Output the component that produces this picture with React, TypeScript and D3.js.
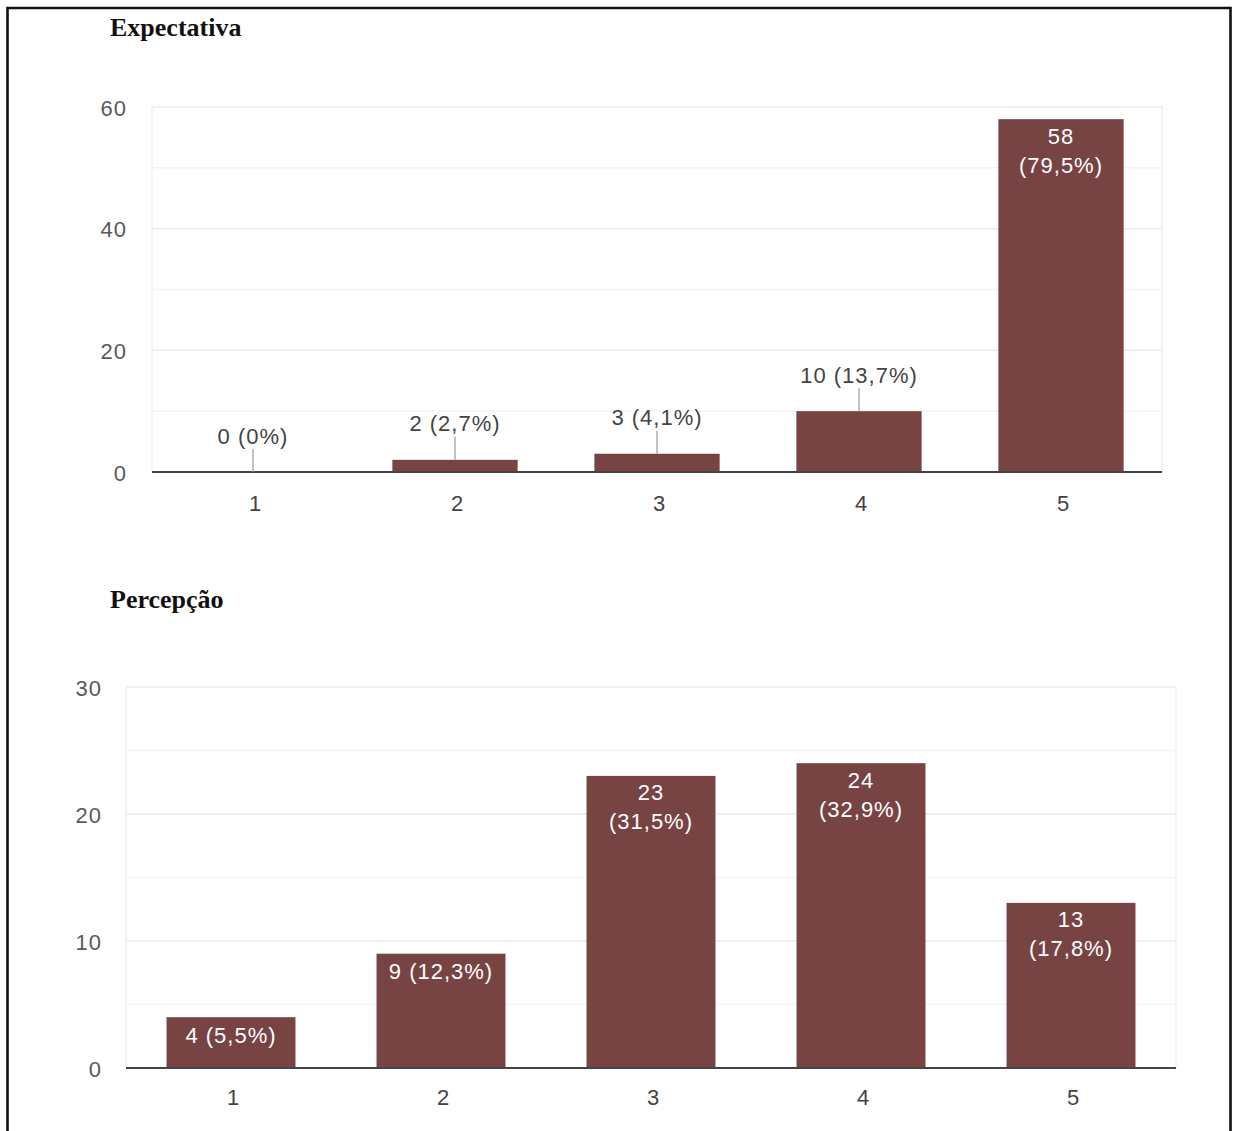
import React from 'react';
import * as d3 from 'd3';

// Response scale (1 to 5)
const categories = ['1', '2', '3', '4', '5'];

// "Expectativa" responses
const expectativaValues = [0, 2, 3, 10, 58];
const expectativaPct = ['0%', '2,7%', '4,1%', '13,7%', '79,5%'];
const expectativaTicks = [0, 20, 40, 60];
const expectativaMinor = [10, 30, 50];

// "Percepção" responses
const percepcaoValues = [4, 9, 23, 24, 13];
const percepcaoPct = ['5,5%', '12,3%', '31,5%', '32,9%', '17,8%'];
const percepcaoTicks = [0, 10, 20, 30];
const percepcaoMinor = [5, 15, 25];

const W = 1233;
const H = 1131;
const SANS = "Arial, 'Liberation Sans', sans-serif";
const SERIF = "'Times New Roman', 'Liberation Serif', serif";
const BAR = '#774343';
const FS = 22;
const LS = 1;

type ChartProps = {
  title: string;
  titleY: number;
  values: number[];
  pcts: string[];
  ticks: number[];
  minor: number[];
  x0: number;
  x1: number;
  yTop: number;
  yBase: number;
  padding: number;
  labelRight: number;
  xLabelY: number;
  insideMin: number;
};

function BarChart(p: ChartProps) {
  const x = d3.scaleBand<string>()
    .domain(categories)
    .range([p.x0, p.x1])
    .paddingInner(p.padding)
    .paddingOuter(p.padding / 2);
  const yMax = d3.max(p.ticks) as number;
  const y = d3.scaleLinear().domain([0, yMax]).range([p.yBase, p.yTop]);
  const bw = x.bandwidth();

  return (
    <g>
      <text x={110} y={p.titleY} fontFamily={SERIF} fontWeight="bold" fontSize={26} fill="#111">
        {p.title}
      </text>

      {/* grid */}
      <line x1={p.x0} x2={p.x0} y1={p.yTop} y2={p.yBase} stroke="#f1f1f1" strokeWidth={1.5} />
      <line x1={p.x1} x2={p.x1} y1={p.yTop} y2={p.yBase} stroke="#f1f1f1" strokeWidth={1.5} />
      {p.minor.map((t) => (
        <line key={'m' + t} x1={p.x0} x2={p.x1} y1={y(t)} y2={y(t)} stroke="#f4f4f4" strokeWidth={1.5} />
      ))}
      {p.ticks.filter((t) => t > 0).map((t) => (
        <line key={'g' + t} x1={p.x0} x2={p.x1} y1={y(t)} y2={y(t)} stroke="#ebebeb" strokeWidth={1.5} />
      ))}

      {/* y tick labels */}
      {p.ticks.map((t) => (
        <text key={'t' + t} x={p.labelRight} y={y(t) + 1} textAnchor="end" dominantBaseline="central"
          fontFamily={SANS} fontSize={FS} letterSpacing={LS} fill="#5a5a5a">
          {t}
        </text>
      ))}

      {/* bars */}
      {p.values.map((v, i) => (
        <rect key={'b' + i} x={x(categories[i])} y={y(v)} width={bw} height={p.yBase - y(v)} fill={BAR} />
      ))}

      {/* baseline */}
      <line x1={p.x0} x2={p.x1} y1={p.yBase} y2={p.yBase} stroke="#444" strokeWidth={1.8} />

      {/* x tick labels */}
      {categories.map((c) => (
        <text key={'x' + c} x={(x(c) as number) + bw / 2 + 2} y={p.xLabelY} textAnchor="middle"
          fontFamily={SANS} fontSize={FS} fill="#444">
          {c}
        </text>
      ))}

      {/* value annotations */}
      {p.values.map((v, i) => {
        const cx = (x(categories[i]) as number) + bw / 2;
        const top = y(v);
        const label = `${v} (${p.pcts[i]})`;
        if (v < p.insideMin) {
          return (
            <g key={'a' + i}>
              <line x1={cx} x2={cx} y1={top} y2={top - 23} stroke="#999" strokeWidth={1.2} />
              <text x={cx} y={top - 36} textAnchor="middle" dominantBaseline="central"
                fontFamily={SANS} fontSize={FS} letterSpacing={LS} fill="#444">
                {label}
              </text>
            </g>
          );
        }
        if (label.length >= 10) {
          return (
            <text key={'a' + i} textAnchor="middle" fontFamily={SANS} fontSize={FS} letterSpacing={LS} fill="#fff">
              <tspan x={cx} y={top + 17} dominantBaseline="central">{v}</tspan>
              <tspan x={cx} y={top + 46} dominantBaseline="central">{`(${p.pcts[i]})`}</tspan>
            </text>
          );
        }
        return (
          <text key={'a' + i} x={cx} y={top + 18} textAnchor="middle" dominantBaseline="central"
            fontFamily={SANS} fontSize={FS} letterSpacing={LS} fill="#fff">
            {label}
          </text>
        );
      })}
    </g>
  );
}

export default function App() {
  return (
    <svg width={W} height={H} style={{ position: 'absolute', left: 0, top: 0, display: 'block', background: '#fff' }}>
      <rect x={0} y={0} width={W} height={H} fill="#fff" />
      <BarChart
        title="Expectativa" titleY={36}
        values={expectativaValues} pcts={expectativaPct}
        ticks={expectativaTicks} minor={expectativaMinor}
        x0={152} x1={1162} yTop={107} yBase={472} padding={0.38}
        labelRight={127} xLabelY={511} insideMin={20}
      />
      <BarChart
        title="Percepção" titleY={608}
        values={percepcaoValues} pcts={percepcaoPct}
        ticks={percepcaoTicks} minor={percepcaoMinor}
        x0={126} x1={1176} yTop={687} yBase={1068} padding={0.386}
        labelRight={102} xLabelY={1105} insideMin={0}
      />
      {/* page frame, open at the bottom */}
      <path d={`M7.5,${H + 5} V8 H1230.5 V${H + 5}`} fill="none" stroke="#111" strokeWidth={2.6} />
    </svg>
  );
}
